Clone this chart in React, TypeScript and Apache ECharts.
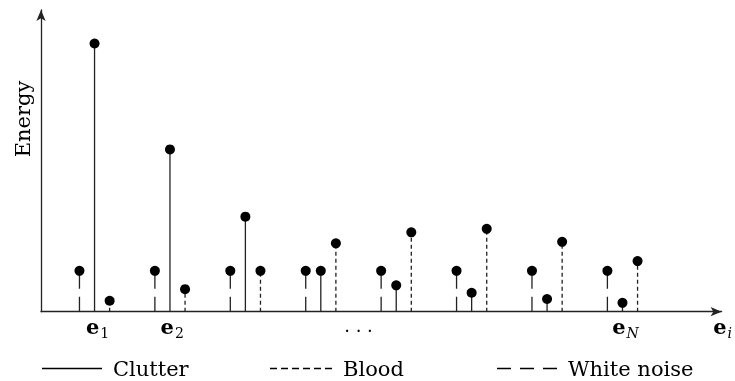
import React, { useEffect, useRef } from 'react';
import * as echarts from 'echarts';

// stem positions (slot index along the e_i axis)
const noiseX = [0, 5, 10, 15, 20, 25, 30, 35];
const clutterX = [1, 6, 11, 16, 21, 26, 31, 36];
const bloodX = [2, 7, 12, 17, 22, 27, 32, 37];

// energies (arbitrary units)
const noiseEnergy = [13.8, 13.8, 13.8, 13.8, 13.8, 13.8, 13.8, 13.8];
const clutterEnergy = [90.6, 54.8, 32.1, 13.8, 8.9, 6.4, 4.3, 3.0];
const bloodEnergy = [3.7, 7.6, 13.8, 23.1, 26.8, 28.0, 23.6, 17.1];

// x tick labels
const tickPositions = [1.2, 6.15, 18.5, 36.2];
const tickLabels = ['{b|e}{s|1}', '{b|e}{s|2}', '{d|. . .}', '{b|e}{si|N}'];
const axisEndLabel = '{b|e}{si|i}';

const seriesNames = ['Clutter', 'Blood', 'White noise'];

const FONT = 'DejaVu Serif';
const STEM = '#222';

const rich = {
  b: { fontFamily: FONT, fontWeight: 'bold', fontSize: 21, color: '#000', lineHeight: 26 },
  s: { fontFamily: FONT, fontSize: 14, color: '#000', lineHeight: 18, padding: [8, 0, 0, 1], verticalAlign: 'bottom' },
  si: { fontFamily: FONT, fontSize: 14, fontStyle: 'italic', color: '#000', lineHeight: 18, padding: [8, 0, 0, 1], verticalAlign: 'bottom' },
  d: { fontFamily: FONT, fontSize: 18, color: '#000', lineHeight: 23 },
};

const makeRender = (dash: number[] | null) => (params: any, api: any) => {
  const x = api.value(0);
  const y = api.value(1);
  const top = api.coord([x, y]);
  const base = api.coord([x, 0]);
  return {
    type: 'group',
    children: [
      {
        type: 'line',
        shape: { x1: base[0], y1: base[1], x2: top[0], y2: top[1] },
        style: { stroke: STEM, lineWidth: 1.3, lineDash: dash || undefined },
      },
      { type: 'circle', shape: { cx: top[0], cy: top[1], r: 5 }, style: { fill: '#000' } },
    ],
  };
};

const zip = (xs: number[], ys: number[]) => xs.map((x, i) => [x, ys[i]]);

const clutterIcon = 'path://M0,0H60V1.3H0Z';
const bloodIcon =
  'path://M0,0h7v1.3h-7z M11,0h7v1.3h-7z M22,0h7v1.3h-7z M33,0h7v1.3h-7z M44,0h7v1.3h-7z M55,0h7v1.3h-7z';
const noiseIcon = 'path://M0,0h14v1.3h-14z M23,0h14v1.3h-14z M46,0h14v1.3h-14z';

const legendBase = {
  top: 358,
  padding: 0,
  itemHeight: 14,
  symbolKeepAspect: true,
  selectedMode: false,
  textStyle: { fontFamily: FONT, fontSize: 21, color: '#000', padding: [0, 0, 0, 6] },
};

export default function App() {
  const ref = useRef<HTMLDivElement>(null);
  useEffect(() => {
    if (!ref.current) return;
    const chart = echarts.init(ref.current, null, { renderer: 'svg' });
    chart.setOption({
      animation: false,
      color: ['#000'],
      grid: { left: 41, right: 12, top: 10, bottom: 69.3 },
      xAxis: {
        type: 'value',
        min: -2.55,
        max: 42.57,
        axisLine: {
          show: true,
          onZero: false,
          symbol: ['none', 'arrow'],
          symbolSize: [7, 11],
          lineStyle: { color: STEM, width: 1.3 },
        },
        axisTick: { show: false },
        splitLine: { show: false },
        axisLabel: {
          customValues: tickPositions,
          formatter: (v: number) => {
            const i = tickPositions.findIndex((p) => Math.abs(p - v) < 1e-6);
            return i >= 0 ? tickLabels[i] : '';
          },
          rich,
          margin: 2,
        },
        name: axisEndLabel,
        nameLocation: 'end',
        nameGap: 1,
        nameTextStyle: { rich, align: 'center', verticalAlign: 'top', padding: [2, 0, 0, 0] },
      },
      yAxis: {
        type: 'value',
        min: 0,
        max: 101.9,
        axisLine: {
          show: true,
          onZero: false,
          symbol: ['none', 'arrow'],
          symbolSize: [7, 11],
          lineStyle: { color: STEM, width: 1.3 },
        },
        axisTick: { show: false },
        axisLabel: { show: false },
        splitLine: { show: false },
      },
      legend: [
        { ...legendBase, left: 42, itemWidth: 60, data: [{ name: seriesNames[0], icon: clutterIcon }] },
        { ...legendBase, left: 270, itemWidth: 62, data: [{ name: seriesNames[1], icon: bloodIcon }] },
        { ...legendBase, left: 497, itemWidth: 60, data: [{ name: seriesNames[2], icon: noiseIcon }] },
      ],
      graphic: [
        {
          type: 'text',
          x: 23,
          y: 119,
          rotation: Math.PI / 2,
          style: {
            text: 'Energy',
            fontFamily: FONT,
            fontSize: 21,
            fill: '#000',
            align: 'center',
            verticalAlign: 'middle',
          },
        },
      ],
      series: [
        {
          name: seriesNames[0],
          type: 'custom',
          itemStyle: { color: '#000' },
          renderItem: makeRender(null),
          data: zip(clutterX, clutterEnergy),
        },
        {
          name: seriesNames[1],
          type: 'custom',
          itemStyle: { color: '#000' },
          renderItem: makeRender([4, 3]),
          data: zip(bloodX, bloodEnergy),
        },
        {
          name: seriesNames[2],
          type: 'custom',
          itemStyle: { color: '#000' },
          renderItem: makeRender([15, 8]),
          data: zip(noiseX, noiseEnergy),
        },
      ],
    });
    return () => chart.dispose();
  }, []);
  return <div ref={ref} style={{ position: 'fixed', left: 0, top: 0, width: 735, height: 381 }} />;
}
